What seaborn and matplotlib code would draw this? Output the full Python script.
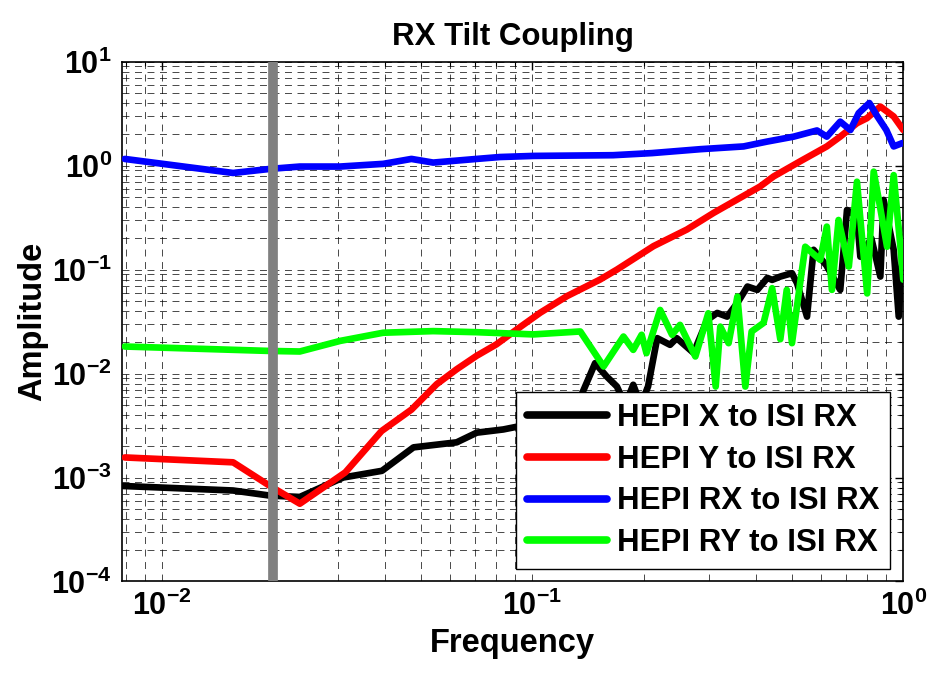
import matplotlib
matplotlib.use("Agg")
import matplotlib.pyplot as plt
import numpy as np
import pandas as pd
import seaborn as sns
from matplotlib.ticker import FuncFormatter, LogLocator, NullFormatter

# -------------------------------------------------------------------
# data
# -------------------------------------------------------------------
freq_hx = [0.00781, 0.0156, 0.0196, 0.0236, 0.0309, 0.0393, 0.0478, 0.0625,
           0.0708, 0.0835, 0.1, 0.12, 0.135, 0.1476, 0.158, 0.169, 0.178,
           0.187, 0.196, 0.205, 0.217, 0.235, 0.245, 0.272, 0.296, 0.315,
           0.335, 0.357, 0.38, 0.404, 0.43, 0.443, 0.466, 0.501, 0.517,
           0.55, 0.567, 0.573, 0.62, 0.676, 0.705, 0.75, 0.766, 0.82, 0.867,
           0.885, 0.942, 0.972, 1.0]
amp_hx = [8.3e-4, 7.5e-4, 6.7e-4, 6.5e-4, 1.0e-3, 1.16e-3, 1.95e-3, 2.18e-3,
          2.7e-3, 2.9e-3, 3.3e-3, 4.2e-3, 6.0e-3, 0.0126, 0.0095, 0.0075,
          0.005, 0.0078, 0.005, 0.0075, 0.0219, 0.0189, 0.0219, 0.0158,
          0.0328, 0.0383, 0.0353, 0.0478, 0.0687, 0.0638, 0.0832, 0.0796,
          0.0857, 0.0923, 0.074, 0.0353, 0.107, 0.155, 0.11, 0.0638, 0.375,
          0.323, 0.133, 0.2, 0.0857, 0.468, 0.155, 0.0353, 0.207]

freq_hy = [0.00796, 0.0156, 0.0196, 0.0236, 0.0313, 0.0392, 0.0472, 0.0552,
           0.0625, 0.0707, 0.080, 0.0908, 0.105, 0.124, 0.152, 0.169, 0.212,
           0.261, 0.308, 0.411, 0.447, 0.527, 0.622, 0.676, 0.75, 0.798,
           0.867, 0.942, 1.0]
amp_hy = [1.56e-3, 1.4e-3, 8.3e-4, 5.6e-4, 1.12e-3, 2.8e-3, 4.5e-3, 7.9e-3,
          0.011, 0.0148, 0.0191, 0.0266, 0.0385, 0.0556, 0.080, 0.100, 0.168,
          0.243, 0.351, 0.63, 0.787, 1.1, 1.53, 1.9, 2.56, 2.86, 3.7, 2.97,
          2.2]

freq_hrx = [0.00796, 0.0156, 0.0196, 0.0236, 0.0303, 0.0396, 0.0472, 0.054,
            0.0707, 0.0817, 0.1006, 0.165, 0.21, 0.284, 0.371, 0.428, 0.506,
            0.585, 0.622, 0.676, 0.72, 0.758, 0.81, 0.85, 0.9, 0.942, 0.995]
amp_hrx = [1.16, 0.85, 0.93, 0.98, 0.98, 1.04, 1.16, 1.07, 1.16, 1.21, 1.24,
           1.26, 1.32, 1.44, 1.53, 1.7, 1.9, 2.18, 1.9, 2.65, 2.2, 3.2, 4.0,
           3.0, 2.2, 1.53, 1.65]

freq_hry = [0.00796, 0.0196, 0.0236, 0.0303, 0.0396, 0.054, 0.0707, 0.1006,
            0.1346, 0.1556, 0.176, 0.187, 0.197, 0.203, 0.221, 0.238, 0.25,
            0.275, 0.298, 0.312, 0.321, 0.338, 0.357, 0.375, 0.39, 0.42,
            0.443, 0.466, 0.485, 0.501, 0.527, 0.544, 0.597, 0.622, 0.642,
            0.669, 0.713, 0.75, 0.775, 0.799, 0.832, 0.859, 0.904, 0.942,
            0.98, 1.0]
amp_hry = [0.0182, 0.0165, 0.0163, 0.0206, 0.0247, 0.0256, 0.025, 0.0238,
           0.0254, 0.0117, 0.0227, 0.0169, 0.0236, 0.0157, 0.0409, 0.0236,
           0.0294, 0.0146, 0.038, 0.0075, 0.0283, 0.0196, 0.055, 0.0075,
           0.0254, 0.0307, 0.0662, 0.0214, 0.0638, 0.0196, 0.074, 0.166,
           0.124, 0.259, 0.0638, 0.30, 0.107, 0.70, 0.193, 0.059, 0.875,
           0.468, 0.166, 0.81, 0.18, 0.08]

labels = ["HEPI X to ISI RX", "HEPI Y to ISI RX",
          "HEPI RX to ISI RX", "HEPI RY to ISI RX"]
colors = ["#000000", "#ff0000", "#0000ff", "#00ff00"]
marker_freq = 0.02

# -------------------------------------------------------------------
# style
# -------------------------------------------------------------------
sns.set_style("white")
plt.rcParams["font.family"] = ["Liberation Sans", "DejaVu Sans"]
plt.rcParams["font.weight"] = "bold"
plt.rcParams["mathtext.fontset"] = "custom"
plt.rcParams["mathtext.rm"] = "Liberation Sans:bold"
plt.rcParams["mathtext.bf"] = "Liberation Sans:bold"
plt.rcParams["mathtext.it"] = "Liberation Sans:bold"
plt.rcParams["lines.scale_dashes"] = False
for k in ["text.color", "axes.labelcolor", "xtick.color", "ytick.color"]:
    plt.rcParams[k] = "black"

fig = plt.figure(figsize=(9.3, 6.77), dpi=100)
ax = fig.add_axes([0.1309, 0.1411, 0.8404, 0.7678])

series = [(freq_hx, amp_hx), (freq_hy, amp_hy),
          (freq_hrx, amp_hrx), (freq_hry, amp_hry)]
for (f, a), lab, col in zip(series, labels, colors):
    df = pd.DataFrame({"freq": f, "amp": a})
    sns.lineplot(data=df, x="freq", y="amp", ax=ax, color=col, lw=4.8,
                 label=lab, sort=False, zorder=3)

ax.axvline(marker_freq, color="#808080", lw=7, zorder=4)

ax.set_xscale("log")
ax.set_yscale("log")
ax.set_xlim(0.0078125, 1)
ax.set_ylim(1e-4, 10)

ax.xaxis.set_major_locator(LogLocator(base=10, numticks=10))
ax.yaxis.set_major_locator(LogLocator(base=10, numticks=10))
ax.xaxis.set_minor_locator(LogLocator(base=10, subs=np.arange(2, 10), numticks=50))
ax.yaxis.set_minor_locator(LogLocator(base=10, subs=np.arange(2, 10), numticks=50))
fmt = FuncFormatter(lambda v, p: r"$10^{%d}$" % int(round(np.log10(v))))
ax.xaxis.set_major_formatter(fmt)
ax.yaxis.set_major_formatter(fmt)
ax.xaxis.set_minor_formatter(NullFormatter())
ax.yaxis.set_minor_formatter(NullFormatter())

ax.grid(True, which="both", color="black", lw=0.5, linestyle=(0, (5, 4)))
ax.tick_params(which="both", direction="in", top=True, right=True,
               labelsize=22, color="black")
ax.tick_params(which="major", length=6, width=1, pad=7)
ax.tick_params(which="minor", length=3, width=0.8)
for s in ax.spines.values():
    s.set_color("black")
    s.set_linewidth(1.2)

ax.set_title("RX Tilt Coupling", fontsize=22.5, fontweight="bold", pad=12)
ax.set_xlabel("Frequency", fontsize=23.5, fontweight="bold", labelpad=4)
ax.set_ylabel("Amplitude", fontsize=23.5, fontweight="bold", labelpad=2)

leg = ax.legend(loc="lower right", bbox_to_anchor=(0.983, 0.0235),
                borderaxespad=0, fontsize=22.5, frameon=True, fancybox=False,
                edgecolor="black", framealpha=1, handlelength=2.56,
                handletextpad=0.32, labelspacing=0.38, borderpad=0.35)
leg.get_frame().set_linewidth(1.0)
leg.set_zorder(10)
for line in leg.get_lines():
    line.set_linewidth(5.5)

fig.savefig("out.png", dpi=100)
